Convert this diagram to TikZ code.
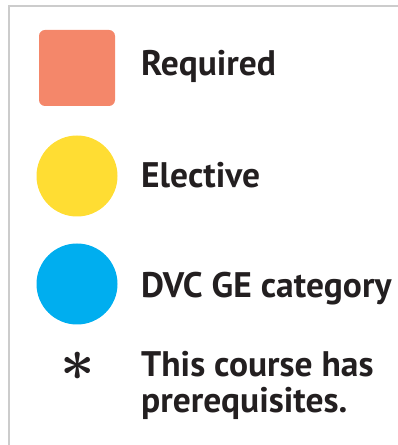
\documentclass[tikz,border=0pt]{standalone}
\usepackage{fontspec}
\setmainfont{PT Sans}
\definecolor{reqc}{HTML}{F4876A}
\definecolor{elec}{HTML}{FFDD33}
\definecolor{gec}{HTML}{00AEEF}
\definecolor{framec}{HTML}{CCCCCC}
\definecolor{txtc}{HTML}{231F20}
\begin{document}
\begin{tikzpicture}[x=1pt,y=1pt,
  lbl/.style={anchor=base west,inner sep=0pt,text=txtc,font=\fontsize{35.5}{36}\selectfont\bfseries},
  sw/.style={draw=none}]
\useasboundingbox (0,0) rectangle (398,445);
\coordinate (ftr) at (398,439);
\coordinate (ftl) at (9,439);
\coordinate (fbl) at (9,0);
\draw[framec,line width=2.5pt] (ftr) -- (ftl) -- (fbl);
\node[sw,fill=reqc,rounded corners=6pt,minimum size=76pt,inner sep=0pt] (req) at (77,377) {};
\node[sw,fill=elec,circle,minimum size=81pt,inner sep=0pt] (ele) at (77,269) {};
\node[sw,fill=gec,circle,minimum size=81pt,inner sep=0pt] (ge) at (77,161) {};
\node[inner sep=0pt,text=txtc] (ast) at (78,79) {\scalebox{6}{\boldmath$\ast$}};
\node[lbl] (treq) at (141,369) {Required};
\node[lbl] (tele) at (141,257) {Elective};
\node[lbl] (tge) at (141,147) {DVC GE category};
\node[lbl] (tp1) at (141,68) {This course has};
\node[lbl] (tp2) at (141,32) {prerequisites.};
\end{tikzpicture}
\end{document}
